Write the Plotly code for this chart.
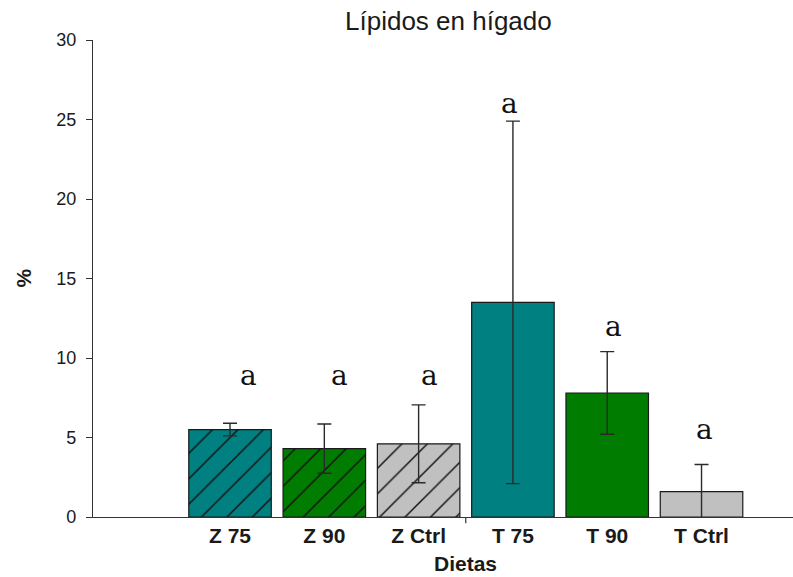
import plotly.graph_objects as go

# Liver lipid content per diet
categories = ["Z 75", "Z 90", "Z Ctrl", "T 75", "T 90", "T Ctrl"]
lipid_pct = [5.5, 4.3, 4.6, 13.5, 7.8, 1.6]
lipid_err = [0.4, 1.55, 2.45, 11.4, 2.6, 1.7]
group_letters = ["a", "a", "a", "a", "a", "a"]
y_ticks = [0, 5, 10, 15, 20, 25, 30]

# styling
fill_colors = ["#008080", "#007d00", "#c0c0c0", "#008080", "#007d00", "#c0c0c0"]
hatched = [True, True, True, False, False, False]
letter_y = [8.9, 8.9, 8.9, 26.0, 12.0, 5.5]
letter_xshift = [18, 15, 11, -3, 6, 3]

x_pos = list(range(len(categories)))

fig = go.Figure()
# one trace per diet so each bar keeps its own solid fill and hatch colour
for i, cat in enumerate(categories):
    pattern = dict(shape="/", fgcolor="#111111", fgopacity=1, bgcolor=fill_colors[i],
                   size=18, solidity=0.08, fillmode="overlay") if hatched[i] else dict(shape="")
    fig.add_trace(go.Bar(
        x=[x_pos[i]],
        y=[lipid_pct[i]],
        name=cat,
        width=0.875,
        marker=dict(color=fill_colors[i], line=dict(color="#1a1a1a", width=1.2),
                    pattern=pattern),
        error_y=dict(type="data", array=[lipid_err[i]], visible=True,
                     color="#2a2a2a", thickness=1.4, width=7),
        showlegend=False,
    ))

annotations = []
for i, (lab, yv, dx) in enumerate(zip(group_letters, letter_y, letter_xshift)):
    annotations.append(dict(
        x=x_pos[i], y=yv, xref="x", yref="y", text=lab, showarrow=False,
        xshift=dx, font=dict(family="DejaVu Serif", size=28, color="#111111"),
        xanchor="center", yanchor="middle",
    ))

# chart title, axis titles
annotations.append(dict(
    x=(448 - 93) / 700, y=1, xref="paper", yref="paper", yshift=19,
    text="Lípidos en hígado", showarrow=False, xanchor="center", yanchor="middle",
    font=dict(family="Liberation Sans, Arial", size=26, color="#1a1a1a"),
))
annotations.append(dict(
    x=2.5, y=0, xref="x", yref="paper", yshift=-46,
    text="<b>Dietas</b>", showarrow=False, xanchor="center", yanchor="middle",
    font=dict(family="Liberation Sans, Arial", size=21, color="#1a1a1a"),
))
annotations.append(dict(
    x=0, y=0.5, xref="paper", yref="paper", xshift=-70,
    text="<b>%</b>", showarrow=False, textangle=-90, xanchor="center", yanchor="middle",
    font=dict(family="Liberation Sans, Arial", size=21, color="#1a1a1a"),
))

fig.update_layout(
    width=793, height=577,
    margin=dict(l=93, r=0, t=40, b=60),
    paper_bgcolor="white", plot_bgcolor="white",
    barmode="overlay",
    annotations=annotations,
    shapes=[dict(type="line", xref="x", yref="paper", x0=2.5, x1=2.5,
                 y0=0, y1=-0.013, line=dict(color="#333333", width=1.2))],
    xaxis=dict(
        range=[-1.453, 5.97], tickvals=x_pos, ticktext=categories,
        ticks="", showgrid=False, zeroline=False,
        showline=True, linecolor="#333333", linewidth=1.2,
        tickfont=dict(family="Liberation Sans, Arial", size=21, color="#1a1a1a", weight="bold"),
    ),
    yaxis=dict(
        range=[0, 30], tickvals=y_ticks, ticks="outside", ticklen=6,
        tickcolor="#333333", tickwidth=1.2, showgrid=False, zeroline=False,
        showline=True, linecolor="#333333", linewidth=1.2,
        ticklabelstandoff=6,
        tickfont=dict(family="Liberation Sans, Arial", size=18, color="#1a1a1a"),
    ),
)

fig.write_html("out.html")
